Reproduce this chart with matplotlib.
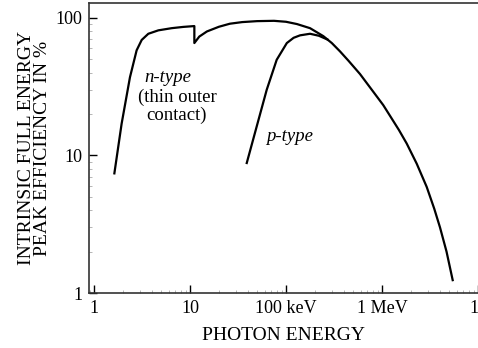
import matplotlib.pyplot as plt
from matplotlib.ticker import FixedLocator, LogLocator, NullFormatter

plt.rcParams['font.family'] = ['Liberation Serif', 'DejaVu Serif']

# values (energy in keV, efficiency in %)
n_energy = [1.63, 1.94, 2.37, 2.78, 3.14, 3.68, 4.68, 6.44, 8.5, 11.1,
            11.1, 12.5, 15, 20, 26, 35, 50, 75, 100, 130, 178, 245, 300,
            365, 450, 590, 811, 1030, 1211, 1500, 1808, 2300, 2922, 3500,
            4018, 4700, 5450]
n_eff = [7.4, 17, 37, 58, 69, 76.5, 81, 84, 85.8, 87,
         65.5, 73, 79.5, 86, 90.5, 93, 94.5, 95, 93.5, 90, 84, 73.5, 65.5,
         57, 48.5, 39, 29, 23.2, 19.4, 15.3, 12.2, 8.7, 5.9, 4.1,
         3.0, 2.0, 1.24]

p_energy = [39, 49.5, 63, 80, 102, 120, 140, 178, 220, 270]
p_eff = [8.8, 16.2, 30, 49.5, 65.5, 71.5, 74.5, 76.5, 74, 69.5]

x_ticks = [1, 10, 100, 1000, 10000]
x_labels = ['1', '10', '100 keV', '1 MeV', '10']
y_ticks = [1, 10, 100]
y_labels = ['1', '10', '100']

fig = plt.figure(figsize=(4.78, 3.48), dpi=100)
ax = fig.add_axes([89 / 478, 55 / 348, 1 - 89 / 478, 290 / 348])

ax.plot(n_energy, n_eff, color='black', lw=1.6)
ax.plot(p_energy, p_eff, color='black', lw=1.6)

ax.set_xscale('log')
ax.set_yscale('log')
ax.set_xlim(0.887, 10000)
ax.set_ylim(1, 128)

ax.xaxis.set_major_locator(FixedLocator(x_ticks))
ax.set_xticklabels(x_labels)
ax.yaxis.set_major_locator(FixedLocator(y_ticks))
ax.set_yticklabels(y_labels)
ax.xaxis.set_minor_locator(LogLocator(subs=range(2, 10)))
ax.yaxis.set_minor_locator(LogLocator(subs=range(2, 10)))
ax.xaxis.set_minor_formatter(NullFormatter())
ax.yaxis.set_minor_formatter(NullFormatter())

ax.tick_params(which='major', direction='in', length=6, width=1, labelsize=13, pad=5)
ax.tick_params(which='minor', direction='in', length=2.5, width=0.5, colors='#999999')
ax.spines['right'].set_visible(False)
for s in ['left', 'bottom', 'top']:
    ax.spines[s].set_linewidth(1.2)
    ax.spines[s].set_color('#333333')

ax.set_xlabel('PHOTON ENERGY', fontsize=14, labelpad=7)
ax.set_ylabel('INTRINSIC FULL ENERGY\nPEAK EFFICIENCY IN %', fontsize=14,
              linespacing=0.92, labelpad=3)

ax.text(5.9, 37, 'n-type', style='italic', fontsize=13.5, ha='center', va='center')
ax.text(7.3, 22.7, '(thin outer\ncontact)', fontsize=13.5, ha='center', va='center',
        linespacing=1.05)
ax.text(110, 13.6, 'p-type', style='italic', fontsize=13.5, ha='center', va='center')

fig.savefig('out.png', dpi=100)
